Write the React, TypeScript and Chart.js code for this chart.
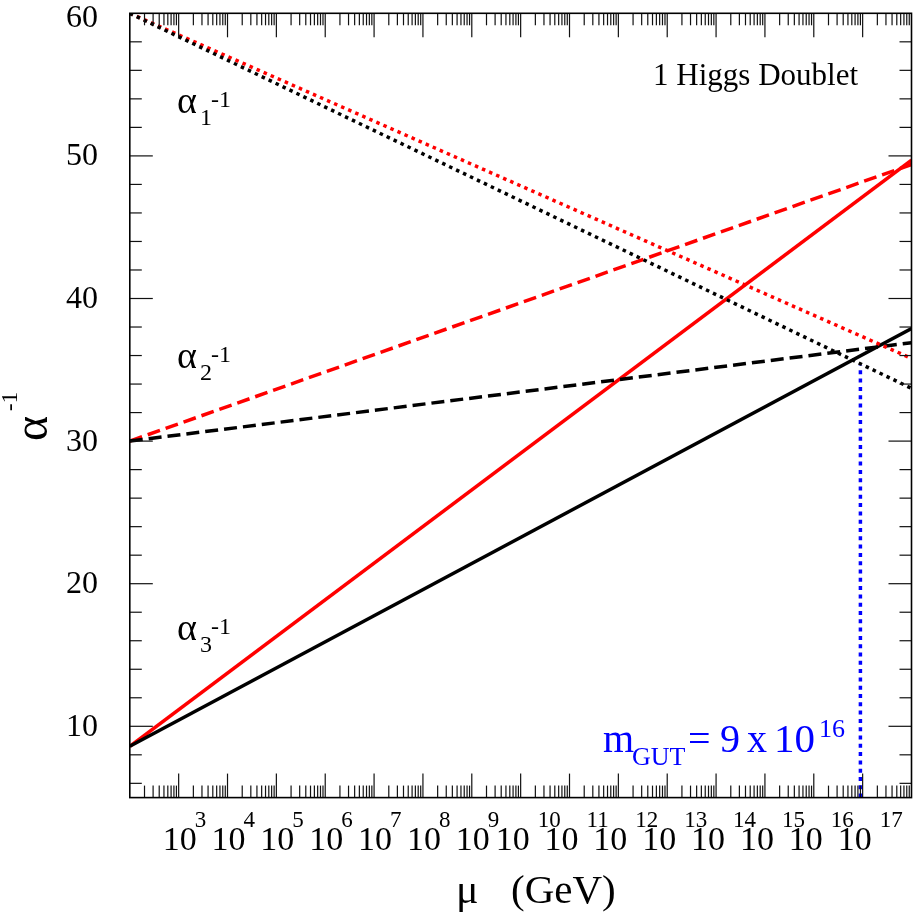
import { useEffect, useRef } from "react";
import { Chart, registerables } from "chart.js";

Chart.register(...registerables);

// Scale range: mu in GeV (log axis) and inverse couplings
const MU_RANGE = [1e2, 1e18];
const Y_RANGE = [5, 60];

// Running inverse couplings, endpoints at MU_RANGE (straight lines in log mu)
const SM_ALPHA1_INV = [60.0, 33.7];
const SM_ALPHA2_INV = [30.0, 36.9];
const SM_ALPHA3_INV = [8.6, 37.9];
const EXT_ALPHA1_INV = [60.0, 35.8];
const EXT_ALPHA2_INV = [30.0, 49.4];
const EXT_ALPHA3_INV = [8.6, 49.7];

// Unification scale marker
const M_GUT = 9e16;
const M_GUT_LINE_Y = [5, 35.3];

// Axis labelling
const Y_TICK_LABELS = [10, 20, 30, 40, 50, 60];
const X_LABEL_EXPONENTS = [3, 4, 5, 6, 7, 8, 9, 10, 11, 12, 13, 14, 15, 16, 17];

const SERIF = '"Liberation Serif", "DejaVu Serif", serif';

const pts = (ys: number[]) => MU_RANGE.map((x, i) => ({ x, y: ys[i] }));

function txt(ctx: CanvasRenderingContext2D, s: string, x: number, y: number, size: number, color = "#000", align: CanvasTextAlign = "left") {
  ctx.font = `${size}px ${SERIF}`;
  ctx.fillStyle = color;
  ctx.textAlign = align;
  ctx.textBaseline = "alphabetic";
  ctx.fillText(s, x, y);
}

const framePlugin = {
  id: "frameAndLabels",
  afterDatasetsDraw(chart: any) {
    const { ctx, chartArea: a, scales } = chart;
    const xs = scales.x;
    const ys = scales.y;
    ctx.save();
    ctx.strokeStyle = "#111";
    ctx.lineWidth = 1.2;
    const seg = (x1: number, y1: number, x2: number, y2: number) => {
      ctx.beginPath();
      ctx.moveTo(x1, y1);
      ctx.lineTo(x2, y2);
      ctx.stroke();
    };
    // y ticks, left and right
    for (let v = 6; v < Y_RANGE[1]; v += 2) {
      const py = ys.getPixelForValue(v);
      const len = v % 10 === 0 ? 23 : 12;
      seg(a.left, py, a.left + len, py);
      seg(a.right - len, py, a.right, py);
    }
    // x ticks, bottom and top
    for (let n = 2; n < 18; n++) {
      for (let k = 1; k <= 9; k++) {
        if (n === 2 && k === 1) continue;
        const px = xs.getPixelForValue(k * Math.pow(10, n));
        const len = k === 1 ? 24 : 12;
        seg(px, a.bottom, px, a.bottom - len);
        seg(px, a.top, px, a.top + len);
      }
    }
    ctx.strokeStyle = "#000";
    ctx.lineWidth = 1.6;
    ctx.strokeRect(a.left, a.top, a.right - a.left, a.bottom - a.top);

    // y tick labels
    ctx.font = `32px ${SERIF}`;
    ctx.fillStyle = "#000";
    ctx.textAlign = "right";
    ctx.textBaseline = "middle";
    for (const v of Y_TICK_LABELS) {
      const py = ys.getPixelForValue(v) + 1;
      ctx.fillText(String(v), 98, v === 60 ? py + 4 : py);
    }

    // x tick labels: 10^n
    for (const n of X_LABEL_EXPONENTS) {
      const px = xs.getPixelForValue(Math.pow(10, n));
      const two = n >= 10;
      txt(ctx, "10", px + (two ? -25 : -16), 850, 34);
      txt(ctx, String(n), px + (two ? 17 : 16), 827, 23);
    }

    // axis titles
    txt(ctx, "\u03bc", 456, 903, 42);
    txt(ctx, "(GeV)", 511, 903, 41);
    ctx.save();
    ctx.translate(47, 441);
    ctx.rotate(-Math.PI / 2);
    txt(ctx, "\u03b1", 0, 0, 48);
    txt(ctx, "-1", 30, -30, 23);
    ctx.restore();

    // curve labels
    const alphaLabel = (sub: string, base: number) => {
      txt(ctx, "\u03b1", 177, base, 38);
      txt(ctx, sub, 200, base + 12, 24);
      txt(ctx, "-1", 211, base - 6, 24);
    };
    alphaLabel("1", 113);
    alphaLabel("2", 368);
    alphaLabel("3", 640);

    txt(ctx, "1 Higgs Doublet", 858, 85, 31, "#000", "right");

    // unification scale annotation
    const blue = "#0000ff";
    txt(ctx, "m", 603, 752, 40, blue);
    txt(ctx, "GUT", 632, 765, 26, blue);
    txt(ctx, "=", 688, 752, 40, blue);
    txt(ctx, "9", 720, 752, 40, blue);
    txt(ctx, "x", 747, 752, 40, blue);
    txt(ctx, "10", 774, 752, 41, blue);
    txt(ctx, "16", 819, 737, 26, blue);
    ctx.restore();
  },
};

export default function App() {
  const ref = useRef<HTMLCanvasElement | null>(null);
  useEffect(() => {
    if (!ref.current) return;
    const line = (data: number[], color: string, dash: number[], width = 3.5) => ({
      data: pts(data),
      borderColor: color,
      backgroundColor: color,
      borderWidth: width,
      borderDash: dash,
      borderCapStyle: "butt" as const,
      pointRadius: 0,
      fill: false,
      tension: 0,
    });
    const chart = new Chart(ref.current, {
      type: "line",
      data: {
        datasets: [
          line(SM_ALPHA1_INV, "#000000", [3.5, 4.2]),
          line(EXT_ALPHA1_INV, "#ff0000", [3.5, 4.2]),
          line(SM_ALPHA2_INV, "#000000", [13, 6]),
          line(EXT_ALPHA2_INV, "#ff0000", [13, 6]),
          line(SM_ALPHA3_INV, "#000000", []),
          line(EXT_ALPHA3_INV, "#ff0000", []),
          {
            data: M_GUT_LINE_Y.map((y) => ({ x: M_GUT, y })),
            borderColor: "#0000ff",
            backgroundColor: "#0000ff",
            borderWidth: 3.5,
            borderDash: [4, 4.3],
            borderCapStyle: "butt" as const,
            pointRadius: 0,
            fill: false,
          },
        ],
      },
      options: {
        responsive: false,
        animation: false,
        devicePixelRatio: 1,
        layout: { padding: { left: 129.8, top: 13.3, right: 2.5, bottom: 121.4 } },
        scales: {
          x: { type: "logarithmic", min: MU_RANGE[0], max: MU_RANGE[1], display: false },
          y: { type: "linear", min: Y_RANGE[0], max: Y_RANGE[1], display: false },
        },
        plugins: { legend: { display: false }, tooltip: { enabled: false } },
      },
      plugins: [framePlugin],
    });
    return () => chart.destroy();
  }, []);
  return (
    <div style={{ position: "fixed", left: 0, top: 0, width: 914, height: 919, background: "#fff" }}>
      <canvas ref={ref} width={914} height={919} style={{ display: "block" }} />
    </div>
  );
}
